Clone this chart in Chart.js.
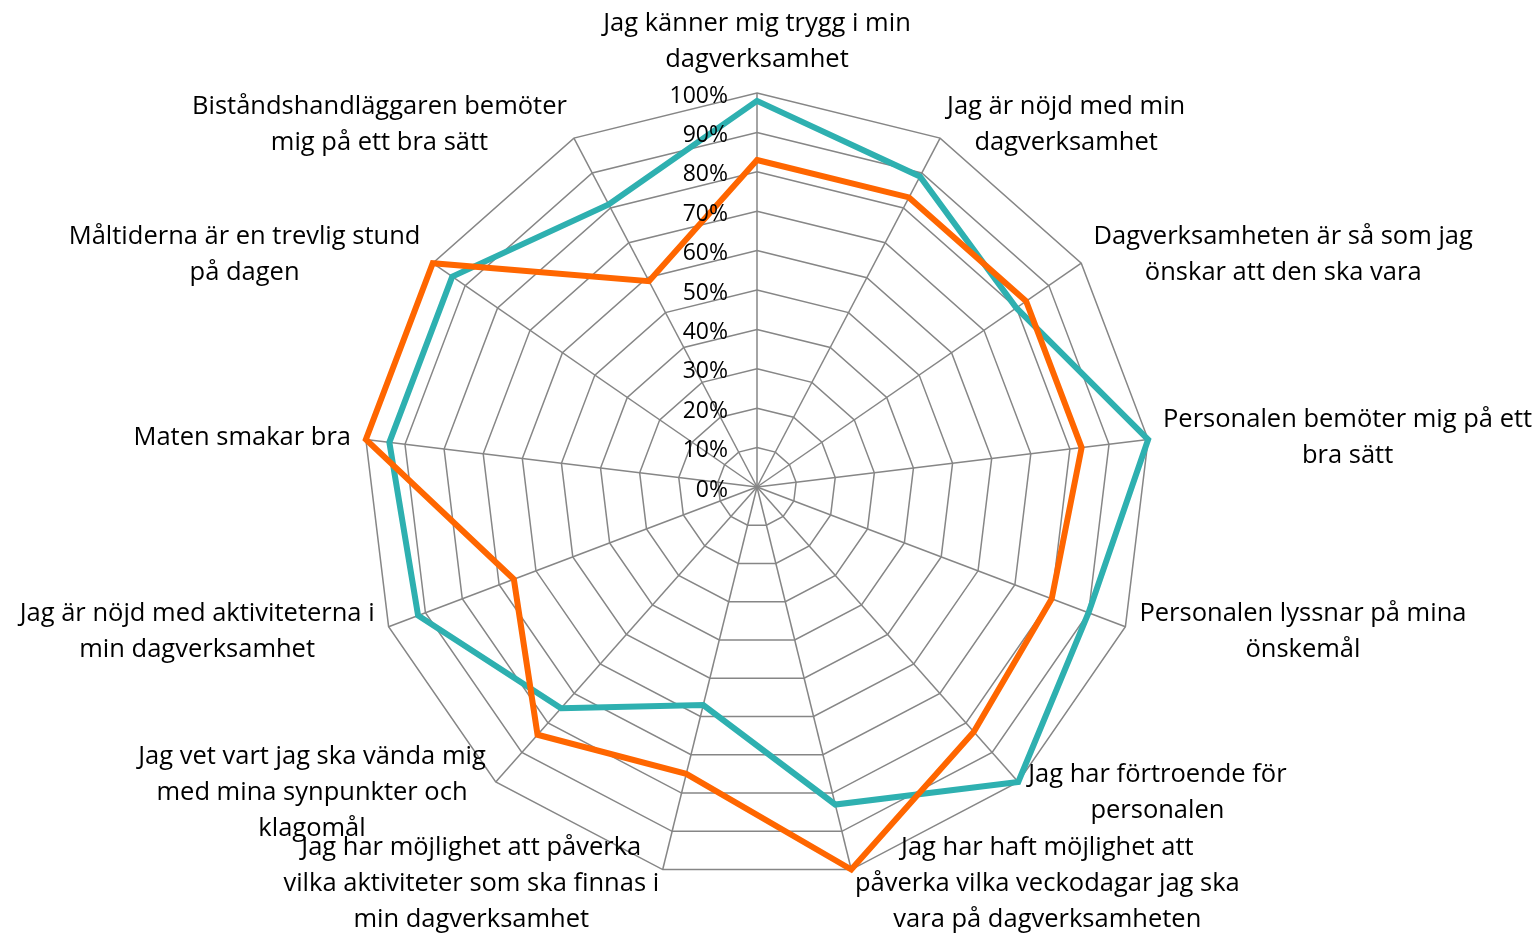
<!DOCTYPE html>
<html>
<head>
<meta charset="utf-8">
<script src="https://cdn.jsdelivr.net/npm/chart.js@4"></script>
<style>
    html, body {margin: 0; padding: 0; background: #ffffff;}
    #wrap {width: 1539px; height: 933px;}
</style>
</head>
<body>
<div id="wrap"><canvas id="radar" width="1539" height="933"></canvas></div>
<script>
// Kategorier (frågor), medsols från toppen
const categories = [
    ['Jag känner mig trygg i min', 'dagverksamhet'],
    ['Jag är nöjd med min', 'dagverksamhet'],
    ['Dagverksamheten är så som jag', 'önskar att den ska vara'],
    ['Personalen bemöter mig på ett', 'bra sätt'],
    ['Personalen lyssnar på mina', 'önskemål'],
    ['Jag har förtroende för', 'personalen'],
    ['Jag har haft möjlighet att', 'påverka vilka veckodagar jag ska', 'vara på dagverksamheten'],
    ['Jag har möjlighet att påverka', 'vilka aktiviteter som ska finnas i', 'min dagverksamhet'],
    ['Jag vet vart jag ska vända mig', 'med mina synpunkter och', 'klagomål'],
    ['Jag är nöjd med aktiviteterna i', 'min dagverksamhet'],
    ['Maten smakar bra'],
    ['Måltiderna är en trevlig stund', 'på dagen'],
    ['Biståndshandläggaren bemöter', 'mig på ett bra sätt']
]

// Andel nöjda (%)
const tealValues = [98, 89, 80, 100, 90, 100, 83, 57, 75, 92, 94, 94, 81]
const orangeValues = [83, 83, 83, 83, 80, 83, 100, 75, 84, 66, 100, 100, 59]

const tickValues = [0, 10, 20, 30, 40, 50, 60, 70, 80, 90, 100]

const LABEL_FONT = '25.5px "Open Sans", sans-serif'
const TICK_FONT = '23px "Open Sans", sans-serif'
const LINE_H = 36

// Skalans etiketter (0%-100%) till vänster om den lodräta axeln
const tickLabelPlugin = {
    id: 'tickLabels',
    afterDatasetsDraw(chart) {
        const scale = chart.scales.r
        const ctx = chart.ctx
        ctx.save()
        ctx.font = TICK_FONT
        ctx.fillStyle = '#000000'
        ctx.textAlign = 'right'
        ctx.textBaseline = 'middle'
        tickValues.forEach(v => {
            const d = scale.getDistanceFromCenterForValue(v)
            ctx.fillText(v + '%', scale.xCenter - 29, scale.yCenter - d + 3)
        })
        ctx.restore()
    }
}

// Kategorietiketter utanför ytterringen, centrerade i sitt block
const pointLabelPlugin = {
    id: 'outerLabels',
    afterDraw(chart) {
        const scale = chart.scales.r
        const ctx = chart.ctx
        ctx.save()
        ctx.font = LABEL_FONT
        ctx.fillStyle = '#000000'
        ctx.textBaseline = 'middle'
        ctx.textAlign = 'center'
        categories.forEach((lines, i) => {
            const p = scale.getPointPosition(i, scale.drawingArea + 15)
            const dx = p.x - scale.xCenter
            const blockW = Math.max(...lines.map(l => ctx.measureText(l).width))
            const blockH = lines.length * LINE_H
            let cx = p.x
            if (dx > 2) cx = p.x + blockW / 2
            else if (dx < -2) cx = p.x - blockW / 2
            let top = p.y - blockH / 2
            if (Math.abs(dx) <= 2) top = p.y - blockH
            lines.forEach((ln, j) => {
                ctx.fillText(ln, cx, top + LINE_H * j + LINE_H / 2)
            })
        })
        ctx.restore()
    }
}

const data = {
    labels: categories,
    datasets: [
        {
            label: 'Serie 2',
            data: orangeValues,
            borderColor: '#FF6600',
            backgroundColor: 'rgba(0,0,0,0)',
            borderWidth: 6,
            pointRadius: 0,
            fill: false,
            tension: 0
        },
        {
            label: 'Serie 1',
            data: tealValues,
            borderColor: '#2EB0B0',
            backgroundColor: 'rgba(0,0,0,0)',
            borderWidth: 6,
            pointRadius: 0,
            fill: false,
            tension: 0
        }
    ]
}

const config = {
    type: 'radar',
    data: data,
    options: {
        responsive: false,
        animation: false,
        layout: {padding: {top: 93, bottom: 52, left: 0, right: 25}},
        plugins: {
            legend: {display: false},
            tooltip: {enabled: false}
        },
        elements: {line: {borderJoinStyle: 'miter'}},
        scales: {
            r: {
                min: 0,
                max: 100,
                ticks: {display: false, stepSize: 10},
                grid: {color: '#868686', lineWidth: 1.5, circular: false},
                angleLines: {color: '#868686', lineWidth: 1.5},
                pointLabels: {display: false}
            }
        }
    },
    plugins: [tickLabelPlugin, pointLabelPlugin]
}

new Chart(document.getElementById('radar').getContext('2d'), config)
</script>
</body>
</html>
